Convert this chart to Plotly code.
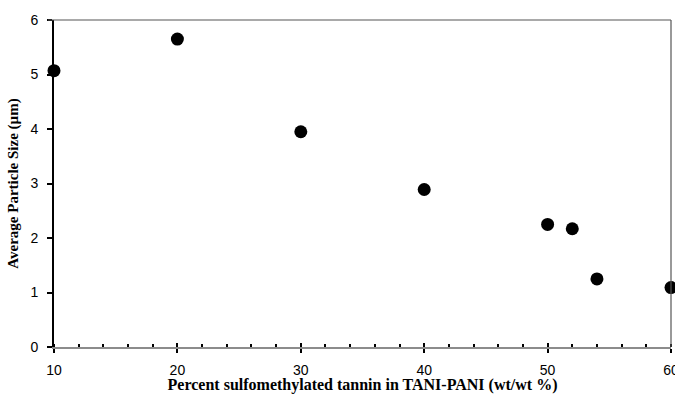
import plotly.graph_objects as go

tannin_pct = [10, 20, 30, 40, 50, 52, 54, 60]
particle_size_um = [5.07, 5.65, 3.95, 2.89, 2.25, 2.17, 1.25, 1.09]
x_ticks = [10, 20, 30, 40, 50, 60]
y_ticks = [0, 1, 2, 3, 4, 5, 6]

tick_font = dict(family="Liberation Sans Narrow, Arial Narrow, Liberation Sans, Arial", size=14, color="black")
serif = "Liberation Serif, Times New Roman, serif"

fig = go.Figure()
fig.add_trace(go.Scatter(
    x=tannin_pct, y=particle_size_um, mode="markers",
    marker=dict(color="black", size=13, line=dict(width=0)),
    cliponaxis=False, showlegend=False,
))
# invisible trace on overlay axis to carry inside major ticks
fig.add_trace(go.Scatter(x=tannin_pct, y=particle_size_um, mode="markers",
                         marker=dict(opacity=0), xaxis="x2", showlegend=False, hoverinfo="skip"))

fig.update_layout(
    width=675, height=394,
    margin=dict(l=54, r=4, t=20, b=47, autoexpand=False),
    paper_bgcolor="white", plot_bgcolor="white",
    xaxis=dict(
        range=[10, 60], tickvals=x_ticks, ticktext=[str(v) for v in x_ticks],
        showgrid=False, zeroline=False,
        showline=True, linecolor="#8c8c8c", linewidth=1.5,
        ticks="outside", ticklen=4, tickwidth=1.5, tickcolor="black",
        minor=dict(dtick=2, ticks="inside", ticklen=3, tickwidth=1.5, tickcolor="black"),
        tickfont=tick_font, ticklabelstandoff=5, ticklabeloverflow="allow",
        title=dict(text="<b>Percent sulfomethylated tannin in TANI-PANI (wt/wt %)</b>",
                   font=dict(family=serif, size=16, color="black"), standoff=3),
    ),
    xaxis2=dict(
        range=[10, 60], overlaying="x", anchor="y", side="bottom",
        tickvals=x_ticks, showticklabels=False, showgrid=False, zeroline=False,
        showline=False, ticks="inside", ticklen=4, tickwidth=1.5, tickcolor="black",
    ),
    yaxis=dict(
        range=[0, 6], tickvals=y_ticks, ticktext=[str(v) for v in y_ticks],
        showgrid=False, zeroline=False,
        showline=True, linecolor="black", linewidth=2,
        ticks="outside", ticklen=5, tickwidth=1.5, tickcolor="black",
        tickfont=tick_font, ticklabelstandoff=6, ticklabeloverflow="allow",
        title=dict(text="<b>Average Particle Size (µm)</b>",
                   font=dict(family=serif, size=15, color="black"),
                   standoff=8),
    ),
    shapes=[
        dict(type="line", xref="paper", yref="paper", x0=-0.01, x1=1, y0=1, y1=1,
             line=dict(color="#555555", width=1.2)),
        dict(type="line", xref="paper", yref="paper", x0=1, x1=1, y0=0, y1=1,
             line=dict(color="#555555", width=1.2)),
    ],
)

fig.write_html(
    "out.html",
    config={"displayModeBar": False},
    post_script="document.body.style.margin='0';document.body.style.overflow='hidden';",
)
